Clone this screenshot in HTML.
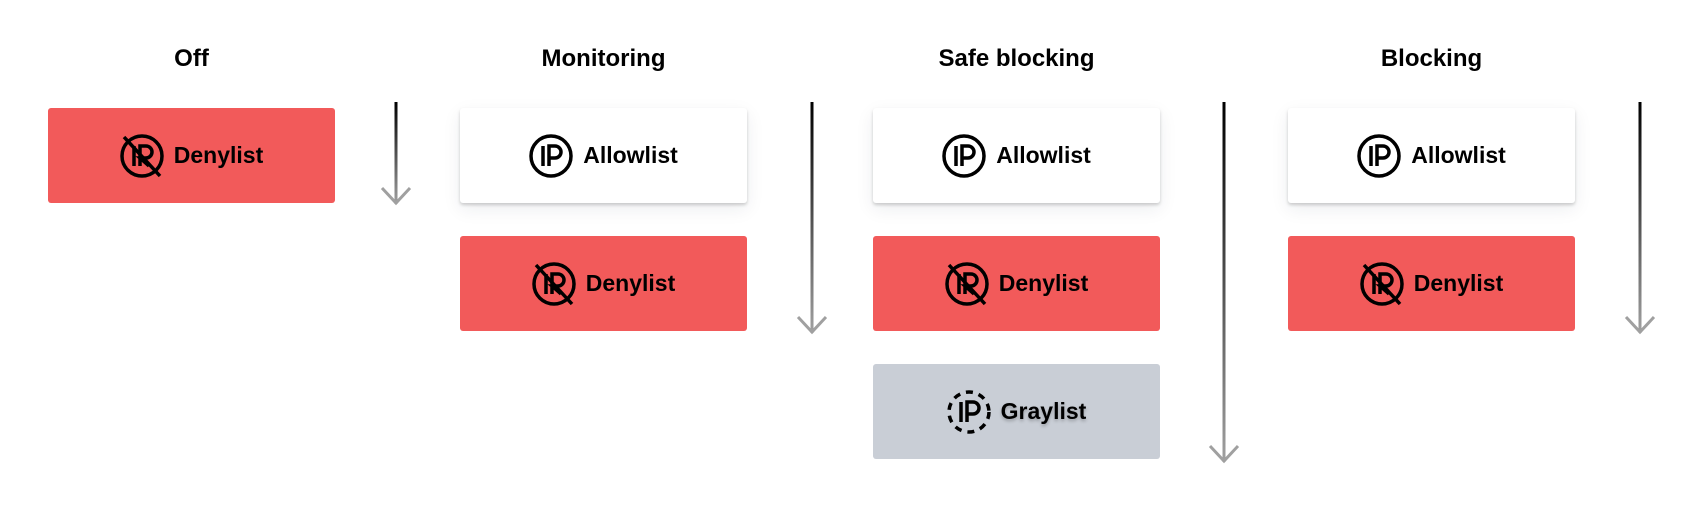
<!DOCTYPE html>
<html><head><meta charset="utf-8"><style>
body{margin:0;width:1684px;height:508px;background:#fff;position:relative;overflow:hidden;font-family:"Liberation Sans",sans-serif;}
.t{position:absolute;top:45px;width:287px;text-align:center;font-weight:bold;font-size:24px;color:#000;}
.b{position:absolute;width:287px;height:95px;border-radius:3px;display:flex;align-items:center;justify-content:center;font-weight:bold;font-size:23px;color:#000;}
.b svg{margin-right:10px;}
.w{background:#fff;box-shadow:0 2px 3px rgba(0,0,0,.18),0 6px 18px rgba(30,40,60,.08);}
.r{background:#f25a5a;}
.g{background:#c9ced6;}
.g span{text-shadow:0 2px 3px rgba(0,0,0,.25);}
.a{position:absolute;}
</style></head><body>
<div class="t" style="left:48px">Off</div>
<div class="t" style="left:460px">Monitoring</div>
<div class="t" style="left:873px">Safe blocking</div>
<div class="t" style="left:1288px">Blocking</div>

<svg width="0" height="0" style="position:absolute"><defs>
<g id="ip"><circle cx="22" cy="22" r="20" fill="none" stroke="#000" stroke-width="3.5"/><path d="M14 12v20M20 32V12h6a6 6 0 0 1 0 12h-6" fill="none" stroke="#000" stroke-width="3.5"/></g>
<g id="deny"><circle cx="22" cy="22" r="20" fill="none" stroke="#000" stroke-width="3.5"/><path d="M14 12v20M20 32V12h6a6 6 0 0 1 0 12h-6l9 8" fill="none" stroke="#000" stroke-width="3.5"/><path d="M4 3L40 42" stroke="#000" stroke-width="3.5"/></g>
<g id="gray"><circle cx="22" cy="22" r="20" fill="none" stroke="#000" stroke-width="3.5" stroke-dasharray="7 6"/><path d="M14 12v20M20 32V12h6a6 6 0 0 1 0 12h-6" fill="none" stroke="#000" stroke-width="3.5"/></g>
<linearGradient id="lg" x1="0" y1="0" x2="0" y2="1"><stop offset="0" stop-color="#000"/><stop offset="1" stop-color="#a0a0a0"/></linearGradient>
</defs></svg>

<div class="b r" style="left:48px;top:108px"><svg width="44" height="44"><use href="#deny"/></svg><span>Denylist</span></div>

<div class="b w" style="left:460px;top:108px"><svg width="44" height="44"><use href="#ip"/></svg><span>Allowlist</span></div>
<div class="b r" style="left:460px;top:236px"><svg width="44" height="44"><use href="#deny"/></svg><span>Denylist</span></div>

<div class="b w" style="left:873px;top:108px"><svg width="44" height="44"><use href="#ip"/></svg><span>Allowlist</span></div>
<div class="b r" style="left:873px;top:236px"><svg width="44" height="44"><use href="#deny"/></svg><span>Denylist</span></div>
<div class="b g" style="left:873px;top:364px"><svg width="44" height="44"><use href="#gray"/></svg><span>Graylist</span></div>

<div class="b w" style="left:1288px;top:108px"><svg width="44" height="44"><use href="#ip"/></svg><span>Allowlist</span></div>
<div class="b r" style="left:1288px;top:236px"><svg width="44" height="44"><use href="#deny"/></svg><span>Denylist</span></div>

<svg class="a" style="left:380px;top:102px" width="32" height="104"><rect x="14.5" y="0" width="3" height="102" fill="url(#lg)"/><path d="M2 86L16 101L30 86" fill="none" stroke="#a0a0a0" stroke-width="3"/></svg>
<svg class="a" style="left:796px;top:102px" width="32" height="233"><rect x="14.5" y="0" width="3" height="231" fill="url(#lg)"/><path d="M2 215L16 230L30 215" fill="none" stroke="#a0a0a0" stroke-width="3"/></svg>
<svg class="a" style="left:1208px;top:102px" width="32" height="362"><rect x="14.5" y="0" width="3" height="360" fill="url(#lg)"/><path d="M2 344L16 359L30 344" fill="none" stroke="#a0a0a0" stroke-width="3"/></svg>
<svg class="a" style="left:1624px;top:102px" width="32" height="233"><rect x="14.5" y="0" width="3" height="231" fill="url(#lg)"/><path d="M2 215L16 230L30 215" fill="none" stroke="#a0a0a0" stroke-width="3"/></svg>
</body></html>
